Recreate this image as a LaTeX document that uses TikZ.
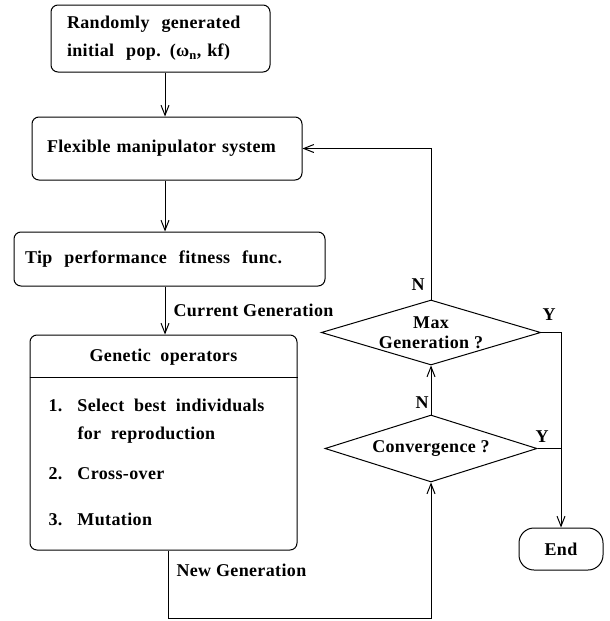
\documentclass[tikz,border=0pt]{standalone}
\usepackage{fontspec}
\setmainfont{Liberation Serif}[LetterSpace=2]
\usetikzlibrary{arrows.meta, shapes.geometric}

\begin{document}
\begin{tikzpicture}[x=1pt, y=-1pt, line width=1pt,
    >={Straight Barb[length=10pt, width=8pt]},
    every node/.style={font=\fontsize{18}{28}\selectfont\bfseries},
    box/.style={draw, rounded corners=7pt, inner sep=0pt},
    decision/.style={draw, diamond, inner sep=0pt, align=center},
    lbl/.style={inner sep=2pt}]
  \useasboundingbox (0,0) rectangle (610,621);

  % left column
  \node[box, align=left, text width=187pt, minimum width=219pt, minimum height=67pt] (init) at (160.5,38.5)
    {Randomly\ \ generated\\initial\ \ pop. (ω\textsubscript{n}, kf)};
  \node[box, align=left, text width=240pt, minimum width=270pt, minimum height=63pt] (flex) at (167,148.5)
    {Flexible manipulator system};
  \node[box, align=left, text width=289pt, minimum width=311pt, minimum height=54pt] (tip) at (169.5,259)
    {Tip\ \ performance\ \ fitness\ \ func.};
  \node[box, minimum width=267pt, minimum height=215pt] (gen) at (163.5,442.5) {};
  \node (genhead) at (163.5,357) {Genetic\ \ operators};
  \draw (gen.west |- 0,377) -- (gen.east |- 0,377);
  \node[inner sep=0pt, anchor=west, align=left] (op1) at (48,421)
    {\makebox[29pt][l]{1.}Select\ \ best\ \ individuals\\\hspace*{29pt}for\ \ reproduction};
  \node[inner sep=0pt, anchor=west] (op2) at (48,474) {\makebox[29pt][l]{2.}Cross-over};
  \node[inner sep=0pt, anchor=west] (op3) at (48,519) {\makebox[29pt][l]{3.}Mutation};

  % right column
  \node[decision, aspect=3.6, minimum width=210pt, minimum height=65pt,
        font=\fontsize{18}{20}\selectfont\bfseries] (maxg) at (431,332.5) {Max\\Generation ?};
  \node[decision, aspect=3.2, minimum width=212pt, minimum height=67pt] (conv) at (431,448.5) {Convergence ?};
  \node[box, rounded corners=15pt, minimum width=84pt, minimum height=42pt] (end) at (561,549) {End};

  \coordinate (col) at (165,0);
  \coordinate (nx) at (168,0);
  \coordinate (low) at (0,618);

  % connectors
  \draw[->] (col |- init.south) -- (col |- flex.north);
  \draw[->] (col |- flex.south) -- (col |- tip.north);
  \draw[->] (col |- tip.south) -- node[lbl, right=6pt]{Current Generation} (col |- gen.north);
  \draw[->] (nx |- gen.south) -- node[lbl, right=6pt, pos=0.3]{New Generation} (nx |- low) -| (conv.south);
  \draw[->] (conv.north) -- node[lbl, left, pos=0.25]{N} (maxg.south);
  \draw[->] (maxg.north) |- node[lbl, left=4pt, pos=0.05]{N} (flex.east);
  \draw[->] (maxg.east) -| node[lbl, above=10pt, pos=0.2]{Y} (end.north);
  \draw (conv.east) -- node[lbl, above=4pt, pos=0.2]{Y} (conv.east -| end.north);
\end{tikzpicture}
\end{document}
